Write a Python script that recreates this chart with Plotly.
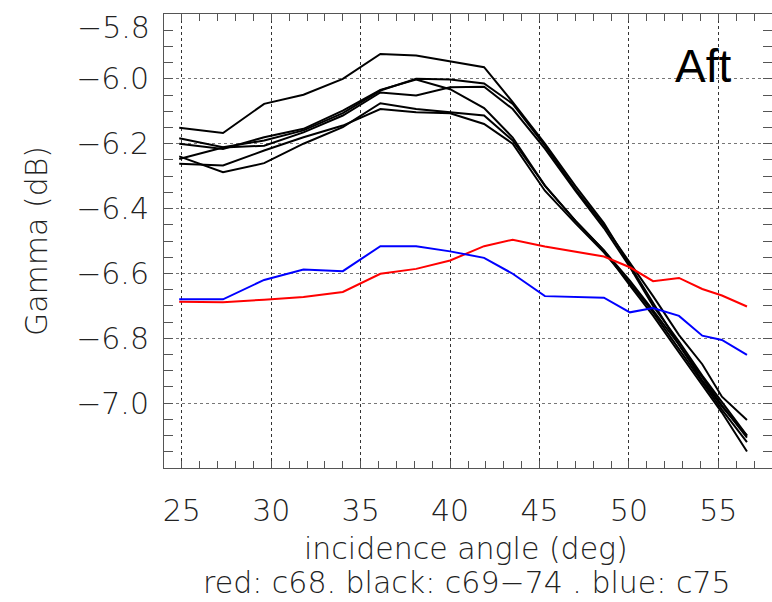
import plotly.graph_objects as go

# incidence angles (deg) of the sampled points
angles = [24.85, 27.3, 29.6, 31.8, 34.0, 36.1, 38.1, 40.0, 41.9, 43.5,
          45.3, 47.0, 48.6, 50.05, 51.35, 52.8, 54.1, 55.2, 56.6]

# red: c68
red_c68 = [-6.687, -6.689, -6.681, -6.673, -6.657, -6.601, -6.586, -6.560, -6.516, -6.496,
           -6.517, -6.533, -6.548, -6.581, -6.624, -6.614, -6.648, -6.668, -6.702]

# blue: c75
blue_c75 = [-6.680, -6.680, -6.620, -6.588, -6.593, -6.516, -6.516, -6.532, -6.552, -6.601,
            -6.670, -6.673, -6.675, -6.720, -6.707, -6.731, -6.792, -6.805, -6.851]

# black: c69-74
black_a = [-6.151, -6.167, -6.077, -6.049, -6.000, -5.923, -5.928, -5.947, -5.964, -6.072,
           -6.200, -6.330, -6.445, -6.575, -6.690, -6.820, -6.930, -7.010, -7.100]
black_b = [-6.183, -6.211, -6.190, -6.159, -6.106, -6.036, -6.000, -6.002, -6.014, -6.077,
           -6.206, -6.340, -6.452, -6.565, -6.670, -6.790, -6.880, -6.980, -7.052]
black_c = [-6.200, -6.216, -6.180, -6.154, -6.098, -6.034, -6.002, -6.032, -6.090, -6.181,
           -6.329, -6.437, -6.529, -6.622, -6.714, -6.820, -6.920, -7.007, -7.106]
black_d = [-6.247, -6.212, -6.206, -6.165, -6.113, -6.042, -6.051, -6.026, -6.024, -6.093,
           -6.215, -6.345, -6.460, -6.580, -6.700, -6.810, -6.915, -6.998, -7.100]
black_e = [-6.239, -6.288, -6.260, -6.200, -6.149, -6.075, -6.093, -6.103, -6.113, -6.190,
           -6.329, -6.437, -6.529, -6.637, -6.730, -6.844, -6.946, -7.029, -7.149]
black_f = [-6.262, -6.267, -6.221, -6.180, -6.144, -6.093, -6.103, -6.106, -6.139, -6.200,
           -6.345, -6.445, -6.535, -6.630, -6.720, -6.835, -6.935, -7.020, -7.120]

black_series = [black_a, black_b, black_c, black_d, black_e, black_f]

x_ticks = [25, 30, 35, 40, 45, 50, 55]
y_ticks = [-6.0, -6.2, -6.4, -6.6, -6.8, -7.0]
y_top_label = "\u22125.8"

FONT = "DejaVu Sans"
TXT = dict(family=FONT, size=30, color="#222", weight=200)

fig = go.Figure()
for s in black_series:
    fig.add_trace(go.Scatter(x=angles, y=s, mode="lines",
                             line=dict(color="black", width=2), showlegend=False))
fig.add_trace(go.Scatter(x=angles, y=red_c68, mode="lines",
                         line=dict(color="#ff0000", width=2), showlegend=False))
fig.add_trace(go.Scatter(x=angles, y=blue_c75, mode="lines",
                         line=dict(color="#0000ff", width=2), showlegend=False))

fig.update_layout(
    width=772, height=602,
    margin=dict(l=164, r=0, t=14, b=134),
    plot_bgcolor="white", paper_bgcolor="white",
    font=TXT,
)
fig.update_xaxes(
    range=[24, 58], tickvals=x_ticks, ticktext=[str(v) for v in x_ticks],
    showgrid=True, gridcolor="#333", griddash="dot", gridwidth=1,
    showline=True, linecolor="#555", linewidth=1, mirror="allticks",
    ticks="inside", ticklen=7, tickcolor="#555",
    minor=dict(dtick=1, tick0=0, ticks="inside", ticklen=7, tickcolor="#555", showgrid=False),
    ticklabelstandoff=16, zeroline=False,
    tickfont=TXT,
)
fig.update_yaxes(
    range=[-7.2, -5.8], tickvals=y_ticks,
    ticktext=["\u2212%.1f" % abs(v) for v in y_ticks],
    showgrid=True, gridcolor="#777", griddash="dot", gridwidth=1,
    showline=True, linecolor="#555", linewidth=1, mirror="allticks",
    ticks="inside", ticklen=9, tickcolor="#555",
    minor=dict(dtick=0.05, tick0=0, ticks="inside", ticklen=9, tickcolor="#555", showgrid=False),
    ticklabelstandoff=8, zeroline=False,
    tickfont=TXT,
)

fig.add_annotation(text=y_top_label, xref="paper", yref="paper", x=-0.0197, y=0.971,
                   xanchor="right", yanchor="middle", showarrow=False, font=TXT)
fig.add_annotation(text="Gamma (dB)", xref="paper", yref="paper", x=-0.2105, y=0.5,
                   xanchor="center", yanchor="middle", textangle=-90, showarrow=False,
                   font=TXT)
fig.add_annotation(text="incidence angle (deg)", xref="paper", yref="paper", x=0.497, y=-0.178,
                   xanchor="center", yanchor="middle", showarrow=False, font=TXT)
fig.add_annotation(text="red: c68. black: c69\u221274 . blue: c75", xref="paper", yref="paper",
                   x=0.499, y=-0.253, xanchor="center", yanchor="middle", showarrow=False,
                   font=TXT)
fig.add_annotation(text="Aft", xref="paper", yref="paper", x=0.8865, y=0.885,
                   xanchor="center", yanchor="middle", showarrow=False,
                   font=dict(family="Liberation Sans", size=46, color="black"))

fig.write_html("out.html")
